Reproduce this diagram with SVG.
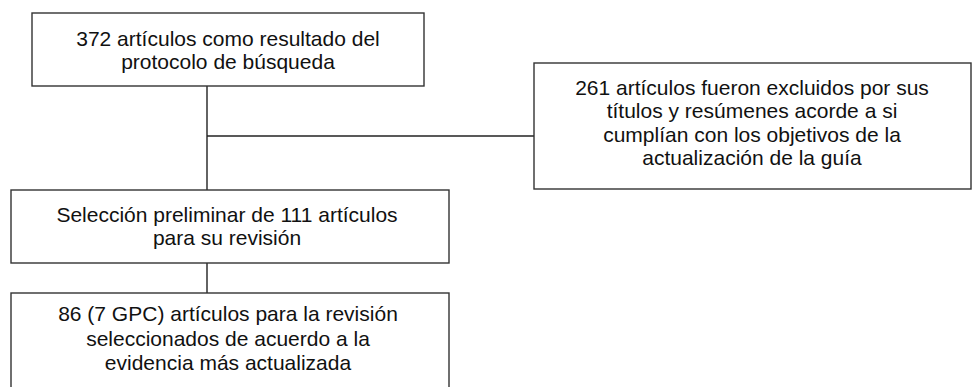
<svg xmlns="http://www.w3.org/2000/svg" width="976" height="387" viewBox="0 0 976 387">
<style>
.box{fill:#fff;stroke:#333;stroke-width:1.4}
.lbl{font-family:"Liberation Sans",Arial,sans-serif;font-size:21px;fill:#111;text-anchor:middle}
.con{stroke:#222;stroke-width:1.4;fill:none}
</style>
<rect width="976" height="387" fill="#fff"/>
<g id="connectors">
<line class="con" x1="207" y1="86" x2="207" y2="190"/>
<line class="con" x1="207" y1="136" x2="534" y2="136"/>
<line class="con" x1="207" y1="263" x2="207" y2="293"/>
</g>
<g id="n1">
<rect class="box" x="32" y="13" width="392" height="73"/>
<text class="lbl" x="228" y="45.5">372 artículos como resultado del</text>
<text class="lbl" x="228" y="69">protocolo de búsqueda</text>
</g>
<g id="n2">
<rect class="box" x="534" y="63" width="437" height="126"/>
<text class="lbl" x="752" y="95">261 artículos fueron excluidos por sus</text>
<text class="lbl" x="752" y="118.3">títulos y resúmenes acorde a si</text>
<text class="lbl" x="752" y="141.6">cumplían con los objetivos de la</text>
<text class="lbl" x="752" y="165">actualización de la guía</text>
</g>
<g id="n3">
<rect class="box" x="11" y="190" width="438" height="73"/>
<text class="lbl" x="227" y="221.7">Selección preliminar de 111 artículos</text>
<text class="lbl" x="227" y="245">para su revisión</text>
</g>
<g id="n4">
<rect class="box" x="11" y="293" width="438" height="100"/>
<text class="lbl" x="228" y="321">86 (7 GPC) artículos para la revisión</text>
<text class="lbl" x="228" y="345.5">seleccionados de acuerdo a la</text>
<text class="lbl" x="228" y="370">evidencia más actualizada</text>
</g>
</svg>
